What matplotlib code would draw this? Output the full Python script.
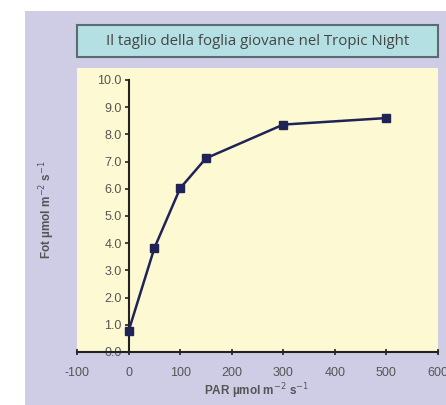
import matplotlib.pyplot as plt
from matplotlib.patches import Rectangle

# dati
par = [0, 50, 100, 150, 300, 500]
fot = [0.77, 3.82, 6.02, 7.12, 8.36, 8.60]
xticks = [-100, 0, 100, 200, 300, 400, 500, 600]
yticks = [0.0, 1.0, 2.0, 3.0, 4.0, 5.0, 6.0, 7.0, 8.0, 9.0, 10.0]
titolo = "Il taglio della foglia giovane nel Tropic Night"

W, H = 446, 405
fig = plt.figure(figsize=(W / 100, H / 100), dpi=100)
fig.patch.set_facecolor("white")

# sfondo lilla
fig.patches.append(Rectangle((25 / W, 0), 1, 1 - 11 / H, transform=fig.transFigure,
                             facecolor="#cfcde6", edgecolor="none", zorder=-10))

# riquadro del titolo
fig.patches.append(Rectangle((77 / W, 1 - 57 / H), (438 - 77) / W, 32 / H,
                             transform=fig.transFigure, facecolor="#b4e0e4",
                             edgecolor="#5c6b72", linewidth=1.5, zorder=-5))
fig.text((77 + 438) / 2 / W, 1 - 41.5 / H, titolo, ha="center", va="center",
         fontsize=10.8, family="Open Sans", color="#444444")

ax = fig.add_axes([77 / W, 1 - 352 / H, (438 - 77) / W, (352 - 68) / H])
ax.set_zorder(1)
ax.set_facecolor("#fdf9d2")
ax.plot(par, fot, color="#1f2356", linewidth=1.8, marker="s", markersize=5.5,
        markerfacecolor="#1f2356", markeredgecolor="#1f2356", clip_on=False, zorder=3)

ax.set_xlim(-100, 600)
ax.set_ylim(0, 10.44)
ax.set_xticks(xticks)
ax.set_yticks(yticks)
ax.set_xticklabels([str(t) for t in xticks])
ax.set_yticklabels(["%.1f" % t for t in yticks])

for s in ["top", "right"]:
    ax.spines[s].set_visible(False)
ax.spines["left"].set_position(("data", 0))
ax.spines["left"].set_bounds(0, 10)
ax.spines["bottom"].set_bounds(-100, 600)
for s in ["left", "bottom"]:
    ax.spines[s].set_color("#222222")
    ax.spines[s].set_linewidth(1.5)

ax.tick_params(axis="y", direction="out", length=3, width=1.2, color="#222222",
               labelsize=9, labelcolor="#555555", pad=2)
ax.tick_params(axis="x", direction="inout", length=5, width=1.2, color="#222222",
               labelsize=9, labelcolor="#555555", pad=8)
for lab in ax.get_xticklabels() + ax.get_yticklabels():
    lab.set_family("Liberation Sans")

fig.text(257 / W, 1 - 391 / H, r"PAR µmol m$^{-2}$ s$^{-1}$", ha="center", va="center",
         fontsize=8.5, fontweight="bold", color="#555555", family="Liberation Sans")
fig.text(47 / W, 1 - 210 / H, r"Fot µmol m$^{-2}$ s$^{-1}$", ha="center", va="center",
         rotation=90, fontsize=8.5, fontweight="bold", color="#555555", family="Liberation Sans")

fig.savefig("out.png", dpi=100)
